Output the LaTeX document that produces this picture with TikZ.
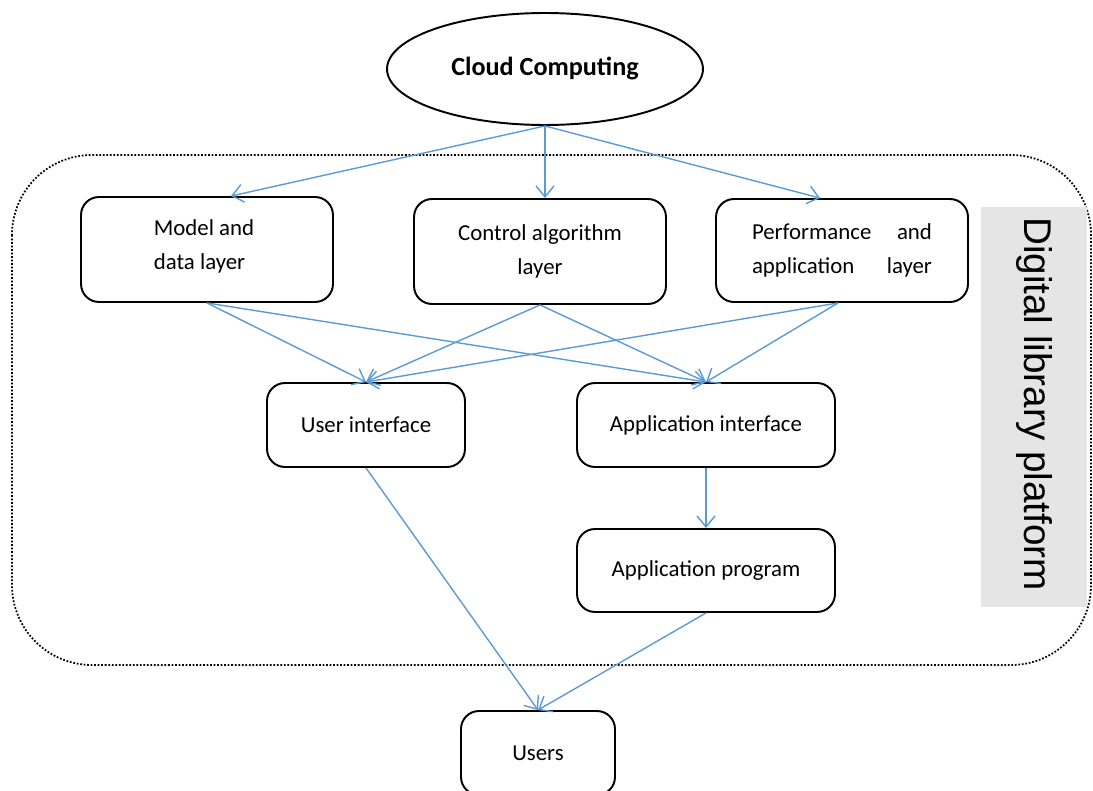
\documentclass[tikz,border=0pt]{standalone}
\usepackage{fontspec}
\setmainfont{Carlito}
\newfontfamily\arialfont{Liberation Sans}
\usetikzlibrary{arrows.meta,shapes.geometric}
\definecolor{arrowblue}{RGB}{91,155,213}
\definecolor{labelgrey}{RGB}{229,229,229}
\tikzset{
  box/.style={draw=black, line width=1.1pt, rounded corners=0.36cm, align=center, font=\fontsize{13}{19.3}\selectfont, inner sep=0pt},
  conn/.style={draw=arrowblue, line width=0.8pt, -{Straight Barb[length=2.2mm,width=3.6mm]}},
}
\begin{document}
\begin{tikzpicture}[x=0.02cm,y=-0.02cm]
\useasboundingbox (0,0) rectangle (1093,791);
% platform frame
\draw[densely dotted, line width=1pt, rounded corners=1.6cm] (12,155) rectangle (1091,665);
\node[fill=labelgrey, minimum width=2.12cm, minimum height=8cm, inner sep=0pt] (lab) at (1034,407) {};
\node[rotate=-90, font=\arialfont\fontsize{22}{26}\selectfont] (labtext) at (1034,404) {Digital library platform};
% nodes
\node[draw=black, line width=1.1pt, ellipse, minimum width=6.32cm, minimum height=2.24cm, inner sep=0pt, font=\bfseries\fontsize{14.9}{18}\selectfont] (cc) at (545,69) {Cloud Computing};
\node[box, minimum width=5.04cm, minimum height=2.1cm] (model) at (207,249.5) {};
\node[align=left, font=\fontsize{13}{19.3}\selectfont] (modeltext) at (204,246) {Model and\\data layer};
\node[box, minimum width=5.04cm, minimum height=2.1cm] (ctrl) at (540,251.5) {Control algorithm\\layer};
\node[box, minimum width=5.04cm, minimum height=2.06cm] (perf) at (842,250.5) {\hbox to 3.6cm{Performance\hfill and}\\\hbox to 3.6cm{application\hfill layer}};
\node[box, minimum width=3.96cm, minimum height=1.68cm] (ui) at (366,425) {User interface};
\node[box, minimum width=5.16cm, minimum height=1.68cm] (ai) at (706,425) {Application interface};
\node[box, minimum width=5.16cm, minimum height=1.66cm] (ap) at (706,570.5) {Application program};
\node[box, minimum width=3.08cm, minimum height=1.68cm] (users) at (538,753) {Users};
% connectors
\draw[conn] (cc.south) -- ([xshift=0.48cm]model.north);
\draw[conn] (cc.south) -- (cc.south |- ctrl.north);
\draw[conn] (cc.south) -- ([xshift=-0.44cm]perf.north);
\draw[conn] (model.south) -- (ui.north);
\draw[conn] (model.south) -- (ai.north);
\draw[conn] (ctrl.south) -- (ui.north);
\draw[conn] (ctrl.south) -- (ai.north);
\draw[conn] ([xshift=-0.08cm]perf.south) -- (ui.north);
\draw[conn] ([xshift=-0.08cm]perf.south) -- (ai.north);
\draw[conn] (ai.south) -- (ap.north);
\draw[conn] (ui.south) -- (users.north);
\draw[conn] (ap.south) -- (users.north);
\end{tikzpicture}
\end{document}
